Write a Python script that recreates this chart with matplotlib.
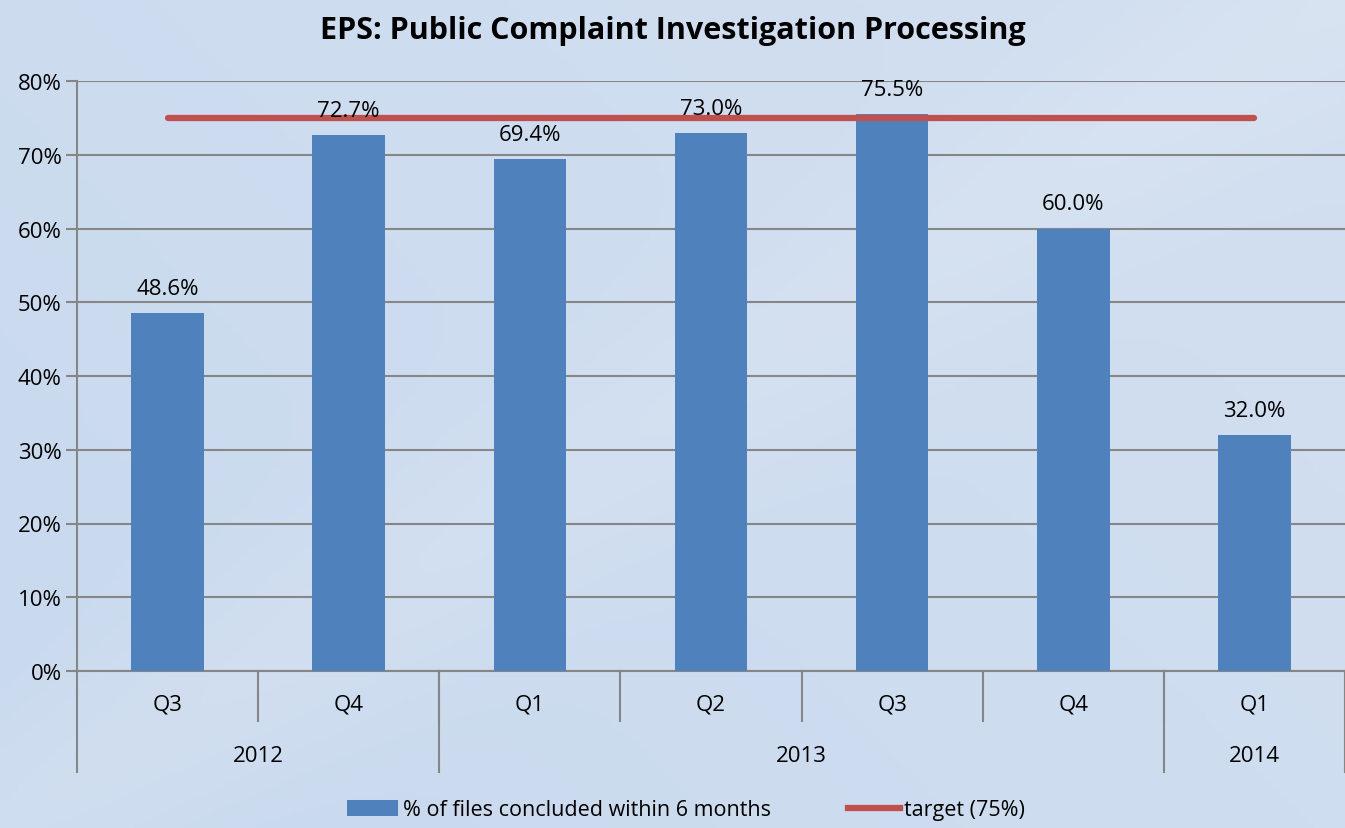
import numpy as np
import matplotlib
matplotlib.use("Agg")
import matplotlib.pyplot as plt
import matplotlib.transforms as mtransforms
from matplotlib.patches import Patch
from matplotlib.lines import Line2D

quarters = ["Q3", "Q4", "Q1", "Q2", "Q3", "Q4", "Q1"]
years = ["2012", "2013", "2014"]
year_spans = [(0, 1), (2, 5), (6, 6)]
values = [48.6, 72.7, 69.4, 73.0, 75.5, 60.0, 32.0]
target = 75.0
yticks = [0, 10, 20, 30, 40, 50, 60, 70, 80]

plt.rcParams['font.family'] = ['Open Sans', 'DejaVu Sans']
FS = 16
LFS = 15.5

W, H = 1345, 829
fig = plt.figure(figsize=(W / 100, H / 100), dpi=100)

# background gradient
bg = fig.add_axes([0, 0, 1, 1], zorder=-10)
yy, xx = np.mgrid[0:1:200j, 0:1:300j]
base = 0.35 + 0.25 * xx - 0.15 * yy
band = 0.25 * np.exp(-((xx - 0.75) + (yy - 0.25)) ** 2 / 0.02)
t = np.clip(base + band, 0, 1)
c1 = np.array([0.77, 0.84, 0.93])
c2 = np.array([0.86, 0.90, 0.95])
img = c1[None, None, :] * (1 - t[..., None]) + c2[None, None, :] * t[..., None]
bg.imshow(img, aspect='auto', extent=[0, 1, 0, 1], origin='upper')
bg.axis('off')

ax = fig.add_axes([77 / W, 1 - 672 / H, 1 - 77 / W, (672 - 82) / H])
ax.patch.set_alpha(0)
x = np.arange(len(values))
bar_color = "#4F81BD"
line_color = "#C0504D"
grid_color = "#868686"

ax.bar(x, values, width=0.4, color=bar_color, zorder=3)
ax.plot([x[0], x[-1]], [target, target], color=line_color, lw=4.5,
        solid_capstyle='round', zorder=4)

for xi, v in zip(x, values):
    ax.text(xi, v + 1.9, f"{v:.1f}%", ha='center', va='bottom', fontsize=FS,
            color='black', zorder=5)

ax.set_xlim(-0.5, len(values) - 0.5)
ax.set_ylim(0, 80)
ax.set_yticks(yticks)
ax.set_yticklabels([f"{t}%" for t in yticks], fontsize=FS)
ax.yaxis.grid(True, color=grid_color, lw=1.5, zorder=0)
ax.set_axisbelow(True)
ax.tick_params(axis='y', length=8, width=1.5, color=grid_color, pad=3)
ax.set_xticks([])
for s in ['top', 'right']:
    ax.spines[s].set_visible(False)
for s in ['left', 'bottom']:
    ax.spines[s].set_color(grid_color)
    ax.spines[s].set_linewidth(1.5)

trans = mtransforms.blended_transform_factory(ax.transData, ax.transAxes)
ph = 590.0
# quarter separators
for b in np.arange(0.5, len(values) - 0.5, 1.0):
    ax.plot([b, b], [0, -50 / ph], transform=trans, color=grid_color, lw=1.5,
            clip_on=False)
# year separators and left edge
year_bounds = [-0.5] + [e + 0.5 for s, e in year_spans]
for b in year_bounds:
    ax.plot([b, b], [0, -101 / ph], transform=trans, color=grid_color, lw=1.5,
            clip_on=False)
for xi, q in zip(x, quarters):
    ax.text(xi, -33 / ph, q, transform=trans, ha='center', va='center', fontsize=FS)
for (s, e), yr in zip(year_spans, years):
    ax.text((s + e) / 2, -85 / ph, yr, transform=trans, ha='center', va='center',
            fontsize=FS)

fig.text(0.5, 1 - 31 / H, "EPS: Public Complaint Investigation Processing",
         ha='center', va='center', fontsize=22, fontweight='bold')

handles = [Patch(facecolor=bar_color, edgecolor='none'),
           Line2D([0], [0], color=line_color, lw=4.5)]
fig.legend(handles, ["% of files concluded within 6 months", "target (75%)"],
           loc='center', bbox_to_anchor=(0.51, 1 - 811 / H), ncol=2, frameon=False,
           fontsize=LFS, handlelength=2.4, handleheight=0.7, handletextpad=0.2,
           columnspacing=3.6)

fig.savefig("out.png", dpi=100)
